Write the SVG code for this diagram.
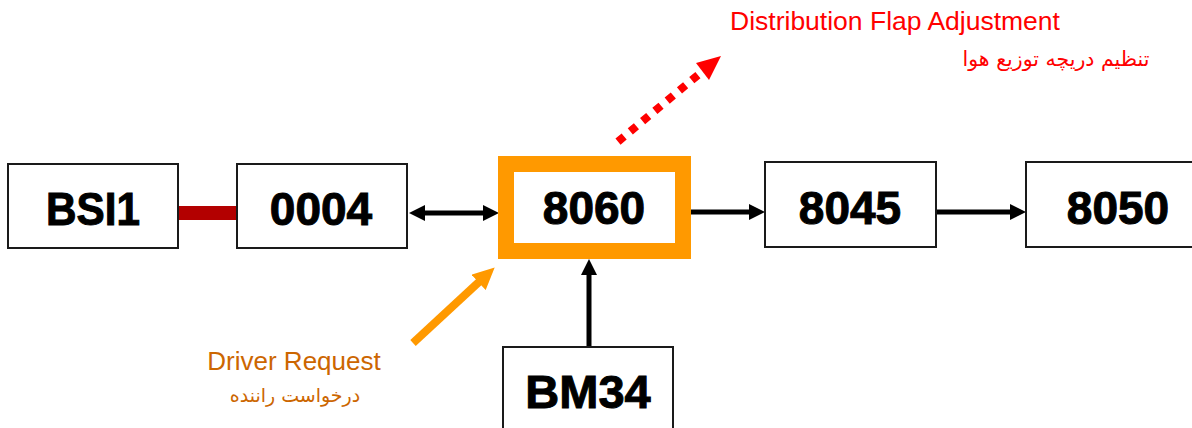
<svg xmlns="http://www.w3.org/2000/svg" width="1192" height="428" viewBox="0 0 1192 428">
<defs>
<style>
.box{fill:#fff;stroke:#1a1a1a;stroke-width:2}
.lbl{font-family:"Liberation Sans",Arial,sans-serif;font-weight:bold;font-size:46px;fill:#000;stroke:#000;stroke-width:1;text-anchor:middle}
.blk{stroke:#000;stroke-width:5;fill:none}
.fa{font-family:"DejaVu Sans","Noto Sans",sans-serif;text-anchor:middle}
</style>
<marker id="ah" viewBox="0 0 16 16" refX="2" refY="8" markerWidth="16" markerHeight="16" markerUnits="userSpaceOnUse" orient="auto-start-reverse">
<path d="M0,0 L16,8 L0,16 z" fill="#000"/>
</marker>
<marker id="ahO" viewBox="0 0 22 21" refX="2" refY="10.5" markerWidth="22" markerHeight="21" markerUnits="userSpaceOnUse" orient="auto">
<path d="M0,0 L22,10.5 L0,21 z" fill="#FF9900"/>
</marker>
</defs>
<rect width="1192" height="428" fill="#fff"/>

<g id="connectors">
<rect x="178" y="206" width="59" height="14" fill="#B30000"/>
<line class="blk" x1="423" y1="213" x2="485" y2="213" marker-start="url(#ah)" marker-end="url(#ah)"/>
<line class="blk" x1="691" y1="212" x2="751" y2="212" marker-end="url(#ah)"/>
<line class="blk" x1="936" y1="212" x2="1012" y2="212" marker-end="url(#ah)"/>
<line class="blk" x1="589" y1="347" x2="589" y2="273" marker-end="url(#ah)"/>
<line x1="413" y1="343" x2="480" y2="281" stroke="#FF9900" stroke-width="8" marker-end="url(#ahO)"/>
<line x1="618" y1="141.6" x2="701" y2="72.5" stroke="#FF0000" stroke-width="8" stroke-dasharray="8 8"/>
<polygon points="721,56 696,63 709,80" fill="#FF0000"/>
</g>

<g id="BSI1">
<rect class="box" x="8" y="164" width="170" height="84"/>
<text class="lbl" x="93" y="225" textLength="94" lengthAdjust="spacingAndGlyphs">BSI1</text>
</g>
<g id="n0004">
<rect class="box" x="237" y="164" width="170" height="84"/>
<text class="lbl" x="321" y="225">0004</text>
</g>
<g id="n8060">
<rect x="506" y="164" width="177" height="87" fill="#fff" stroke="#FF9900" stroke-width="16"/>
<text class="lbl" x="594" y="224">8060</text>
</g>
<g id="n8045">
<rect class="box" x="765" y="162" width="171" height="85"/>
<text class="lbl" x="850" y="224">8045</text>
</g>
<g id="n8050">
<rect class="box" x="1026" y="162" width="180" height="85"/>
<text class="lbl" x="1118" y="224">8050</text>
</g>
<g id="BM34">
<rect class="box" x="503" y="347" width="170" height="100"/>
<text class="lbl" x="588" y="408" style="font-size:47px">BM34</text>
</g>

<g id="label-driver">
<text x="294" y="370" font-family="'Liberation Sans',Arial,sans-serif" font-size="26" fill="#CC6600" text-anchor="middle">Driver Request</text>
<text class="fa" x="295" y="402" font-size="19" fill="#CC6600" direction="rtl">درخواست راننده</text>
</g>
<g id="label-flap">
<text x="895" y="30" font-family="'Liberation Sans',Arial,sans-serif" font-size="26.5" fill="#FF0000" text-anchor="middle">Distribution Flap Adjustment</text>
<text class="fa" x="1056" y="66" font-size="20.5" fill="#FF0000" direction="rtl">تنظیم دریچه توزیع هوا</text>
</g>
</svg>
